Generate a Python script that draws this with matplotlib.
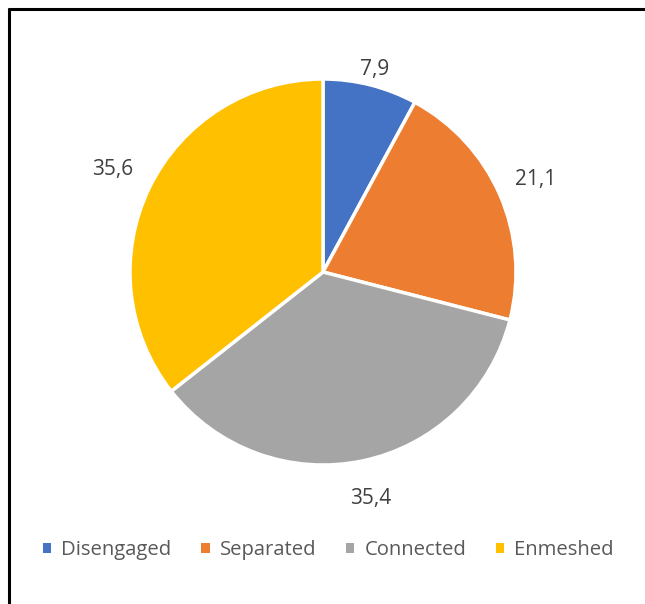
import numpy as np
import matplotlib.pyplot as plt

# Familientypen und Anteile (%)
categories = ["Disengaged", "Separated", "Connected", "Enmeshed"]
values = [7.9, 21.1, 35.4, 35.6]
value_labels = ["7,9", "21,1", "35,4", "35,6"]
colors = ["#4472C4", "#ED7D31", "#A5A5A5", "#FFC000"]

W, H = 645, 604
fig = plt.figure(figsize=(W / 100, H / 100), dpi=100)
ax = fig.add_axes([0, 0, 1, 1])

cx, cy, r = 323, H - 272, 193
wedges, _ = ax.pie(values, colors=colors, startangle=90, counterclock=False,
                   center=(cx, cy), radius=r,
                   wedgeprops=dict(edgecolor="white", linewidth=2.5))
ax.set_xlim(0, W)
ax.set_ylim(0, H)
ax.set_aspect("auto")
ax.axis("off")

# Beschriftungen ausserhalb der Segmente
dist = [1.08, 1.2, 1.2, 1.21]
for w, lab, d in zip(wedges, value_labels, dist):
    ang = np.deg2rad((w.theta1 + w.theta2) / 2)
    ax.text(cx + d * r * np.cos(ang), cy + d * r * np.sin(ang), lab,
            ha="center", va="center", fontsize=15, color="#404040",
            family="Open Sans")

# Legende unten
leg = fig.legend(wedges, categories, loc="center", bbox_to_anchor=(0.509, 1 - 550 / H),
                 ncol=4, frameon=False, handlelength=0.42, handleheight=0.42,
                 handletextpad=0.5, columnspacing=1.45,
                 prop=dict(family="Open Sans", size=14.6))
for t in leg.get_texts():
    t.set_color("#595959")
for h in leg.legend_handles:
    h.set_edgecolor("none")

# Rahmen oben und links
ax.plot([8, W], [H - 9, H - 9], color="black", lw=2.2, solid_capstyle="butt")
ax.plot([9, 9], [0, H - 8], color="black", lw=2.2, solid_capstyle="butt")

fig.savefig("out.png", dpi=100)
